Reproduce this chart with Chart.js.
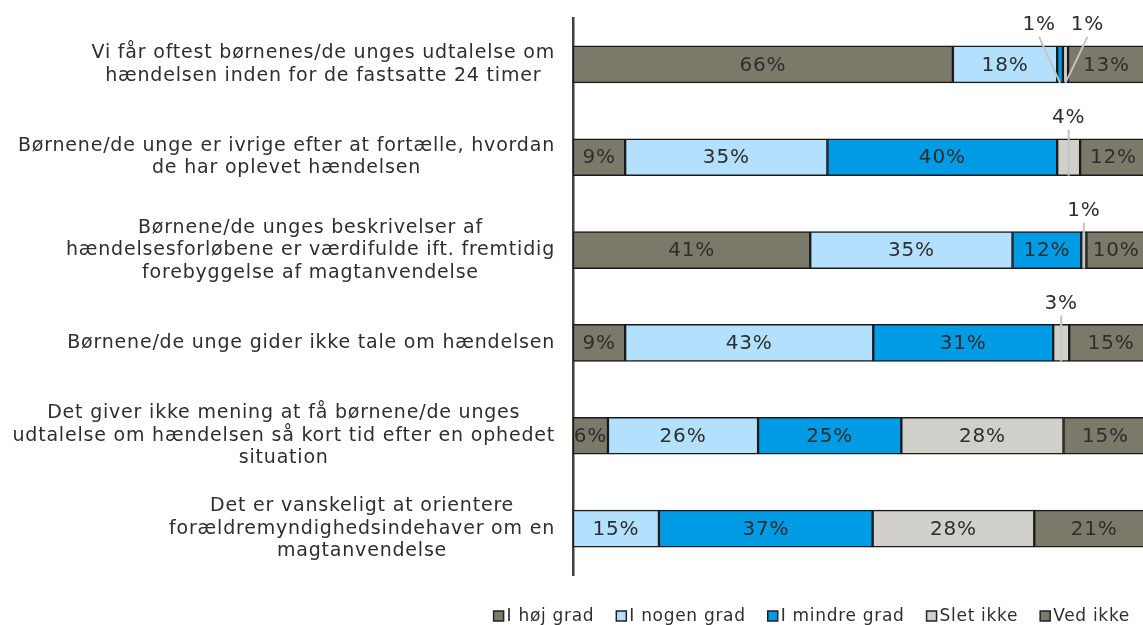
<!DOCTYPE html>
<html>
<head>
<meta charset="utf-8">
<script src="https://cdn.jsdelivr.net/npm/chart.js@4/dist/chart.umd.min.js"></script>
<style>
  html, body { margin: 0; padding: 0; background: #fff; overflow: hidden; }
  #wrap { width: 1143px; height: 625px; overflow: hidden; }
</style>
</head>
<body>
<div id="wrap"><canvas id="chart" width="1150" height="625"></canvas></div>
<script>
// Kategorier (linjeskift som i figuren)
const categories = [
    ["Vi får oftest børnenes/de unges udtalelse om", "hændelsen inden for de fastsatte 24 timer"],
    ["Børnene/de unge er ivrige efter at fortælle, hvordan", "de har oplevet hændelsen"],
    ["Børnene/de unges beskrivelser af", "hændelsesforløbene er værdifulde ift. fremtidig", "forebyggelse af magtanvendelse"],
    ["Børnene/de unge gider ikke tale om hændelsen"],
    ["Det giver ikke mening at få børnene/de unges", "udtalelse om hændelsen så kort tid efter en ophedet", "situation"],
    ["Det er vanskeligt at orientere", "forældremyndighedsindehaver om en", "magtanvendelse"]
];

// Serier (procent)
const seriesNames = ["I høj grad", "I nogen grad", "I mindre grad", "Slet ikke", "Ved ikke"];
const hojGrad     = [66.3, 9.1, 41.4, 9.1, 6.1, 0];
const nogenGrad   = [18.2, 35.3, 35.3, 43.3, 26.2, 15.0];
const mindreGrad  = [1.0, 40.1, 12.0, 31.4, 25.0, 37.3];
const sletIkke    = [0.9, 4.0, 0.9, 2.8, 28.3, 28.2];
const vedIkke     = [13.4, 11.6, 10.4, 14.6, 14.6, 20.9];

const colors = ['#7b7a6a', '#b3e0fd', '#009be5', '#d0cfca', '#7b7a6a'];

// Små etiketter over søjlen: vandret forskydning pr. "række-serie"
const smallOffsets = { '0-2': -21, '0-3': 22 };

const fontFam = '"DejaVu Sans", Verdana, sans-serif';
const textColor = '#2e2e2e';

// Kategori-tekster: blokken højrestillet, linjerne centreret
const categoryLabels = {
    id: 'categoryLabels',
    afterDraw(chart) {
        const ctx = chart.ctx;
        const yScale = chart.scales.y;
        const right = 555;
        const lineH = 22.5;
        ctx.save();
        ctx.font = '19px ' + fontFam;
        ctx.letterSpacing = '0.8px';
        ctx.fillStyle = textColor;
        ctx.textAlign = 'center';
        ctx.textBaseline = 'middle';
        categories.forEach((lines, i) => {
            const yc = yScale.getPixelForTick(i);
            const maxW = Math.max(...lines.map(l => ctx.measureText(l).width));
            const xc = right - maxW / 2;
            const y0 = yc - (lines.length - 1) * lineH / 2;
            lines.forEach((l, j) => ctx.fillText(l, xc, y0 + j * lineH));
        });
        ctx.restore();
    }
};

// Data-etiketter
const valueLabels = {
    id: 'valueLabels',
    afterDatasetsDraw(chart) {
        const ctx = chart.ctx;
        const area = chart.chartArea;
        ctx.save();
        ctx.font = '20px ' + fontFam;
        ctx.letterSpacing = '0.8px';
        ctx.textAlign = 'center';
        ctx.textBaseline = 'middle';
        chart.data.datasets.forEach((ds, di) => {
            const meta = chart.getDatasetMeta(di);
            meta.data.forEach((bar, i) => {
                const v = ds.data[i];
                if (!v) return;
                const txt = Math.round(v) + '%';
                const left = Math.min(bar.x, bar.base);
                const rightX = Math.max(bar.x, bar.base);
                const cx = (left + rightX) / 2;
                const top = bar.y - bar.height / 2;
                const bottom = bar.y + bar.height / 2;
                if (v >= 5) {
                    ctx.save();
                    ctx.beginPath();
                    ctx.rect(area.left, area.top, area.right - area.left, area.bottom - area.top);
                    ctx.clip();
                    ctx.fillStyle = textColor;
                    ctx.fillText(txt, cx, bar.y + 1);
                    ctx.restore();
                } else {
                    // lille værdi: etiket over søjlen med streg ned
                    const off = smallOffsets[i + '-' + di] || 0;
                    const lx = cx + off;
                    const ly = top - 21;
                    ctx.strokeStyle = '#c4c4c4';
                    ctx.lineWidth = 2;
                    ctx.beginPath();
                    ctx.moveTo(lx, ly + 12);
                    ctx.lineTo(cx, bottom);
                    ctx.stroke();
                    ctx.fillStyle = textColor;
                    ctx.fillText(txt, lx, ly);
                }
            });
        });
        ctx.restore();
    }
};

// Forklaring nederst til højre
const customLegend = {
    id: 'customLegend',
    afterDraw(chart) {
        const ctx = chart.ctx;
        ctx.save();
        ctx.font = '17px ' + fontFam;
        ctx.letterSpacing = '0.7px';
        ctx.textBaseline = 'middle';
        const box = 10, gapText = 3, gapItem = 22;
        const widths = seriesNames.map(n => box + gapText + ctx.measureText(n).width);
        const total = widths.reduce((a, b) => a + b, 0) + gapItem * (widths.length - 1);
        let x = 1130 - total;
        const y = 616;
        seriesNames.forEach((n, i) => {
            ctx.fillStyle = colors[i];
            ctx.fillRect(x, y - box / 2, box, box);
            ctx.strokeStyle = '#222';
            ctx.lineWidth = 1.5;
            ctx.strokeRect(x, y - box / 2, box, box);
            ctx.fillStyle = textColor;
            ctx.textAlign = 'left';
            ctx.fillText(n, x + box + gapText, y + 1);
            x += widths[i] + gapItem;
        });
        ctx.restore();
    }
};

const seriesData = [hojGrad, nogenGrad, mindreGrad, sletIkke, vedIkke];

new Chart(document.getElementById('chart'), {
    type: 'bar',
    data: {
        labels: categories.map(c => c.join(' ')),
        datasets: seriesNames.map((name, i) => ({
            label: name,
            data: seriesData[i],
            backgroundColor: colors[i],
            borderColor: '#1a1a1a',
            borderWidth: 1.5,
            borderSkipped: false,
            barThickness: 37
        }))
    },
    options: {
        indexAxis: 'y',
        responsive: false,
        animation: false,
        devicePixelRatio: 1,
        layout: { padding: { left: 565, top: 18, bottom: 50, right: 4 } },
        plugins: {
            legend: { display: false },
            tooltip: { enabled: false }
        },
        scales: {
            x: { stacked: true, min: 0, max: 100, display: false },
            y: {
                stacked: true,
                ticks: { display: false },
                grid: { display: false },
                border: { display: true, color: '#404040', width: 2.5 }
            }
        }
    },
    plugins: [categoryLabels, valueLabels, customLegend]
});
</script>
</body>
</html>
